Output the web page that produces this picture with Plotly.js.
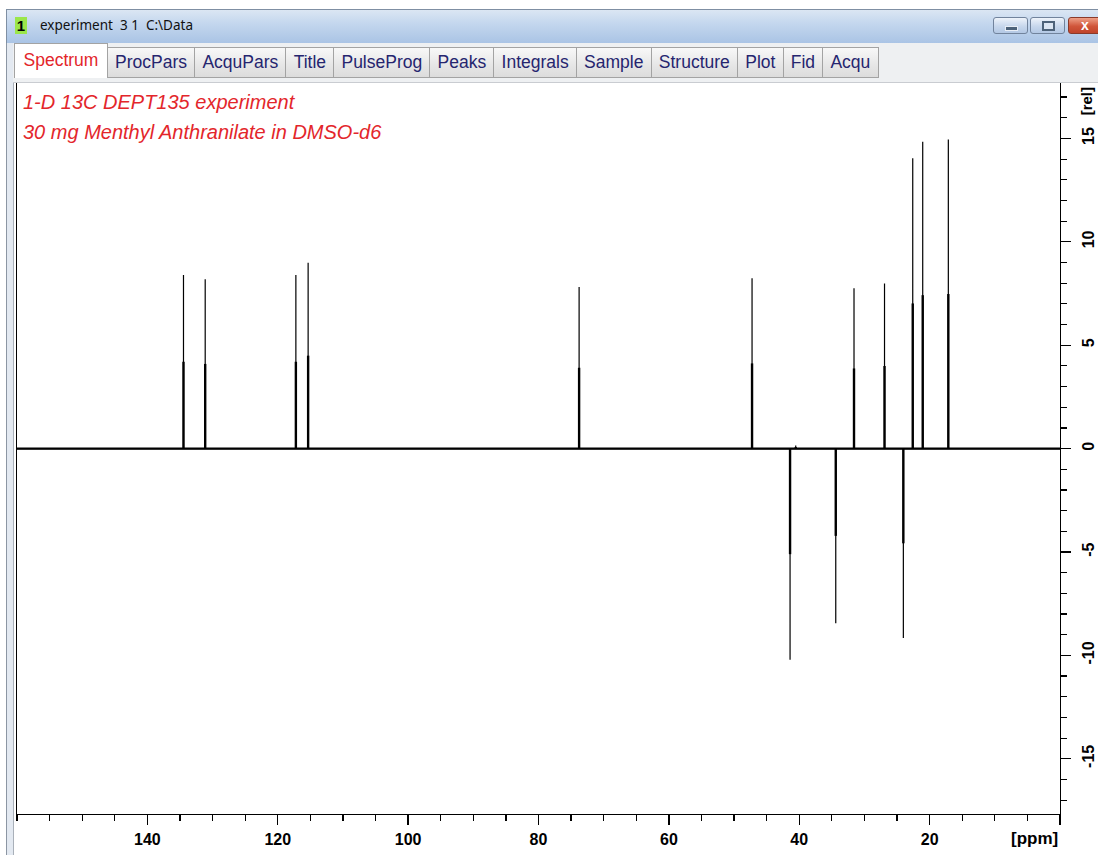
<!DOCTYPE html>
<html><head><meta charset="utf-8">
<script src="https://cdn.plot.ly/plotly-3.0.1.min.js"></script>
<style>
html,body{margin:0;padding:0;background:#fff;}
#wrap{position:relative;width:1098px;height:855px;overflow:hidden;font-family:Arial,'Liberation Sans',sans-serif;}
#plot{position:absolute;left:0;top:0;width:1098px;height:855px;}
#leftborder{position:absolute;left:6px;top:10px;width:6px;height:845px;background:#e3e9f1;border-left:1px solid #8c96a3;border-right:1px solid #a9b0b9;}
#titlebar{position:absolute;left:6px;top:9px;width:1092px;height:33px;border-top:1px solid #7f8fa3;border-left:1px solid #7f8fa3;
  background:linear-gradient(#dbe6f3 0%,#c4d7ee 40%,#aac4e5 100%);}
#badge{position:absolute;left:8px;top:7px;width:12px;height:17px;background:#9be64a;font:bold 15px Arial,'Liberation Sans',sans-serif;line-height:17px;text-align:center;color:#000;}
#wtitle{position:absolute;left:33px;top:7px;font:13.5px 'Noto Sans','DejaVu Sans',sans-serif;color:#111;white-space:pre;line-height:17px;}
.wbtn{position:absolute;top:7px;height:15px;border:1px solid #71839c;border-radius:3px;background:linear-gradient(#eef3fa,#c7d7ec 55%,#b3c8e4);}
#bmin{left:986px;width:33px;}
#bmax{left:1023px;width:33px;}
#bclose{left:1061px;width:40px;border-color:#8a3a2a;background:linear-gradient(#ee9f86,#d0553a 55%,#c0442b);}
#bmin i{position:absolute;left:11px;top:8px;width:11px;height:3px;background:#4d6279;border:1px solid #e8eef6;}
#bmax i{position:absolute;left:11px;top:3px;width:9px;height:6px;border:2px solid #4d6279;background:#dbe5f2;}
#bclose span{position:absolute;left:12px;top:-1px;font:bold 14px Arial,sans-serif;color:#fff;}
#tabstrip{position:absolute;left:13px;top:43px;width:1085px;height:39px;background:#eef0f2;border-bottom:1px solid #c9ccd1;}
#tabs{position:absolute;left:1px;top:0px;display:flex;align-items:flex-end;height:35px;}
.tab{box-sizing:border-box;height:31px;padding:0 7.2px;border:1px solid #a3a3a3;border-left:none;background:linear-gradient(#f8f8f8,#e6e6e6 60%,#dcdcdc);
  font:17.5px Arial,'Liberation Sans',sans-serif;color:#25256f;line-height:29px;white-space:nowrap;}
.tab.sel{height:35px;background:#fff;color:#e3262b;padding:0 8.5px;border-left:1px solid #a3a3a3;border-bottom:none;line-height:33px;}
</style></head><body>
<div id="wrap">
<div id="plot"></div>
<div id="leftborder"></div>
<div id="titlebar"><div id="badge">1</div><div id="wtitle"></div>
<div class="wbtn" id="bmin"><i></i></div><div class="wbtn" id="bmax"><i></i></div><div class="wbtn" id="bclose"><span>x</span></div></div>
<div id="tabstrip"><div id="tabs"></div></div>
</div>
<script>
// ---------- data ----------
const windowTitle = 'experiment  3 1  C:\\Data';
const tabNames = ['Spectrum','ProcPars','AcquPars','Title','PulseProg','Peaks','Integrals','Sample','Structure','Plot','Fid','Acqu'];
const titleLines = ['1-D 13C DEPT135 experiment','30 mg Menthyl Anthranilate in DMSO-d6'];
// peak positions (ppm) and intensities (rel)
const peakPpm    = [134.46, 131.13, 117.22, 115.34, 73.77, 47.24, 41.41, 40.54, 34.40, 31.60, 26.92, 24.03, 22.59, 21.06, 17.13];
const peakHeight = [  8.40,   8.19,   8.40,   8.99,  7.82,  8.24, -10.21,  0.15, -8.44,  7.75,  7.99, -9.16, 14.04, 14.84, 14.95];
const xRange = [160, 0];
const yRange = [-17.67, 17.68];
const xTickVals = [140, 120, 100, 80, 60, 40, 20, 0];
const xTickText = ['140','120','100','80','60','40','20',''];
const yTickVals = [-15, -10, -5, 0, 5, 10, 15];
const yTickText = ['-15','-10','-5','0','5','10','15'];
const xUnit = '[ppm]';
const yUnit = '[rel]';

// ---------- window chrome ----------
document.getElementById('wtitle').textContent = windowTitle;
const tabsEl = document.getElementById('tabs');
tabNames.forEach((t,i)=>{const d=document.createElement('div');d.className='tab'+(i===0?' sel':'');d.textContent=t;tabsEl.appendChild(d);});

// ---------- spectrum traces built from the peak table ----------
const xs=[xRange[0]], ys=[0];
const hx=[], hy=[];
peakPpm.forEach((p,i)=>{
  xs.push(p,p,p); ys.push(0,peakHeight[i],0);
  hx.push(p,p,null); hy.push(0,peakHeight[i]/2,null);
});
xs.push(xRange[1]); ys.push(0);

const font = "Arial, 'Liberation Sans', sans-serif";
const traces = [
  {x:[xRange[0],xRange[1]], y:[0,0], mode:'lines', line:{color:'#000',width:2.2}, hoverinfo:'skip'},
  {x:xs, y:ys, mode:'lines', line:{color:'#000',width:1.2}, hoverinfo:'skip'},
  {x:hx, y:hy, mode:'lines', line:{color:'#000',width:2.4}, hoverinfo:'skip'}
];
const layout = {
  width:1098, height:855,
  margin:{l:17, r:38, t:83, b:41},
  paper_bgcolor:'#fff', plot_bgcolor:'#fff',
  showlegend:false,
  xaxis:{range:xRange, showgrid:false, zeroline:false, showline:true, linecolor:'#000', linewidth:1.3, mirror:true,
    ticks:'outside', ticklen:10, tickwidth:1.3, tickcolor:'#000',
    tickmode:'array', tickvals:xTickVals, ticktext:xTickText,
    tickfont:{family:font, size:16, color:'#000', weight:'bold'},
    minor:{dtick:5, tick0:0, ticks:'outside', ticklen:6, tickwidth:1.2, tickcolor:'#000', showgrid:false}},
  yaxis:{range:yRange, side:'right', showgrid:false, zeroline:false, showline:true, linecolor:'#000', linewidth:1.3, mirror:true,
    ticks:'outside', ticklen:10, tickwidth:1.3, tickcolor:'#000',
    tickmode:'array', tickvals:yTickVals, ticktext:yTickText, tickangle:-90, ticklabelstandoff:3,
    tickfont:{family:font, size:16, color:'#000', weight:'bold'},
    minor:{dtick:1, tick0:0, ticks:'outside', ticklen:6, tickwidth:1.2, tickcolor:'#000', showgrid:false}},
  annotations:[
    {xref:'paper', yref:'paper', x:0.004, y:0.9745, xanchor:'left', yanchor:'middle', showarrow:false,
     text:'<i>'+titleLines[0]+'</i>', font:{family:font, size:20, color:'#e3262b'}},
    {xref:'paper', yref:'paper', x:0.004, y:0.9335, xanchor:'left', yanchor:'middle', showarrow:false,
     text:'<i>'+titleLines[1]+'</i>', font:{family:font, size:20, color:'#e3262b'}},
    {xref:'paper', yref:'paper', x:1, y:-0.033, xanchor:'right', yanchor:'middle', showarrow:false,
     text:'<b>'+xUnit+'</b>', font:{family:font, size:17, color:'#000'}},
    {xref:'paper', yref:'paper', x:1.025, y:0.975, xanchor:'center', yanchor:'middle', showarrow:false, textangle:-90,
     text:'<b>'+yUnit+'</b>', font:{family:font, size:15, color:'#000'}}
  ]
};
Plotly.newPlot('plot', traces, layout, {displayModeBar:false, staticPlot:true});
</script>
</body></html>
